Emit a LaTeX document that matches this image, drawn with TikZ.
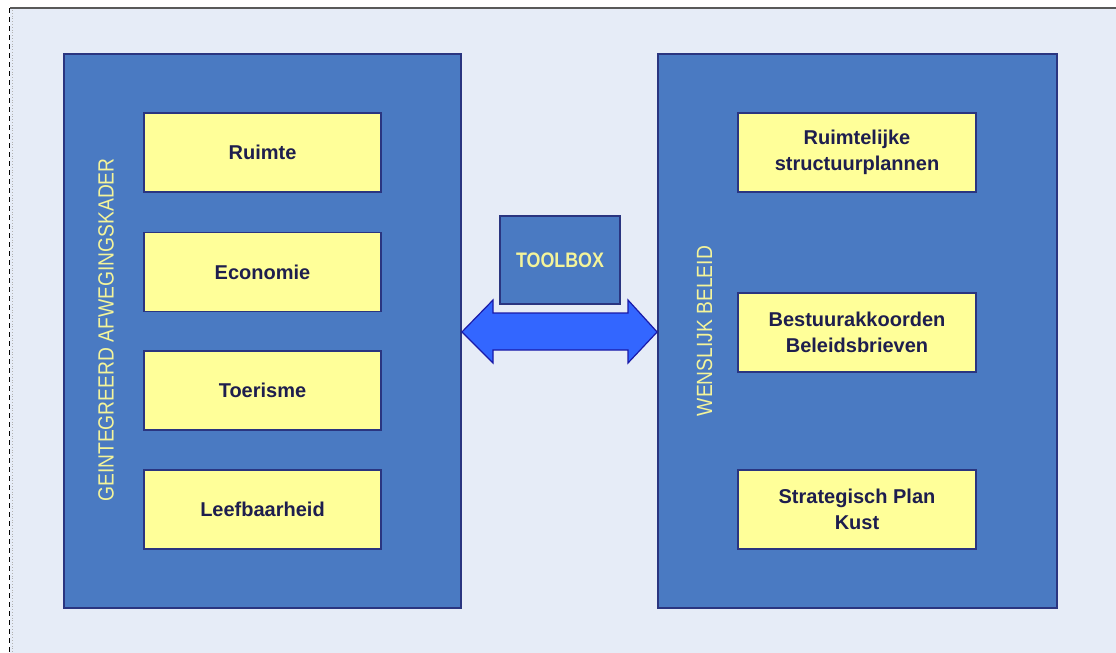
\documentclass[tikz,border=0pt]{standalone}
\usepackage{fontspec}
\setmainfont{Liberation Sans}
\definecolor{bgblue}{HTML}{E6ECF7}
\definecolor{panelblue}{HTML}{4A7AC2}
\definecolor{navy}{HTML}{2A3580}
\definecolor{boxyellow}{HTML}{FFFF99}
\definecolor{textyellow}{HTML}{F4F49A}
\definecolor{textdark}{HTML}{1E1E4E}
\definecolor{arrowblue}{HTML}{3366FF}
\definecolor{arrowedge}{HTML}{1A1AA8}
\tikzset{
  panel/.style={rectangle, fill=panelblue, draw=navy, line width=1.8pt, inner sep=0pt},
  itembox/.style={rectangle, fill=boxyellow, draw=navy, line width=1.6pt, inner sep=0pt,
    minimum width=237pt, minimum height=79pt, align=center, text=textdark,
    font=\fontsize{20}{26}\selectfont\bfseries},
  sidelabel/.style={rotate=90, text=textyellow, inner sep=0pt, font=\fontsize{22}{24}\selectfont},
}
\begin{document}
\begin{tikzpicture}[x=1pt,y=-1pt]
\useasboundingbox (0,0) rectangle (1116,653);
% background
\fill[bgblue] (10,8) rectangle (1116,653);
\draw[gray!70!black, line width=1.5pt] (10,8) -- (1116,8);
\draw[black, line width=1.5pt, dash pattern=on 5pt off 4pt] (9.5,8) -- (9.5,653);
\draw[gray!60, line width=0.8pt, dotted] (12.5,10) -- (12.5,653);
% panels
\node[panel, minimum width=397pt, minimum height=554pt] (L) at (262.5,331) {};
\node[panel, minimum width=399pt, minimum height=554pt] (R) at (857.5,331) {};
% left items
\node[itembox] (ruimte) at (262.5,152.5) {Ruimte};
\node[itembox] (eco) at (262.5,272) {Economie};
\node[itembox] (toer) at (262.5,390.5) {Toerisme};
\node[itembox] (leef) at (262.5,509.5) {Leefbaarheid};
% right items
\node[itembox, minimum width=238pt] (rsp) at (857,152.5) {Ruimtelijke\\structuurplannen};
\node[itembox, minimum width=238pt] (bab) at (857,332.5) {Bestuurakkoorden\\Beleidsbrieven};
\node[itembox, minimum width=238pt] (spk) at (857,509.5) {Strategisch Plan\\Kust};
% side labels
\node[sidelabel] (gak) at (106,330) {\scalebox{0.875}[1]{GEINTEGREERD AFWEGINGSKADER}};
\node[sidelabel] (wb) at (704.5,331) {\scalebox{0.875}[1]{WENSLIJK BELEID}};
% toolbox
\node[panel, line width=1.4pt, minimum width=120pt, minimum height=88pt, text=textyellow,
  font=\fontsize{21}{24}\selectfont\bfseries] (tb) at (560,260) {\scalebox{0.85}[1]{TOOLBOX}};
% double arrow
\filldraw[fill=arrowblue, draw=arrowedge, line width=1.2pt, line join=miter]
  (L.east |- 0,332) -- (493,300) -- (493,313) -- (628,313) -- (628,300) -- (R.west |- 0,332)
  -- (628,363) -- (628,350) -- (493,350) -- (493,363) -- cycle;
\end{tikzpicture}
\end{document}
